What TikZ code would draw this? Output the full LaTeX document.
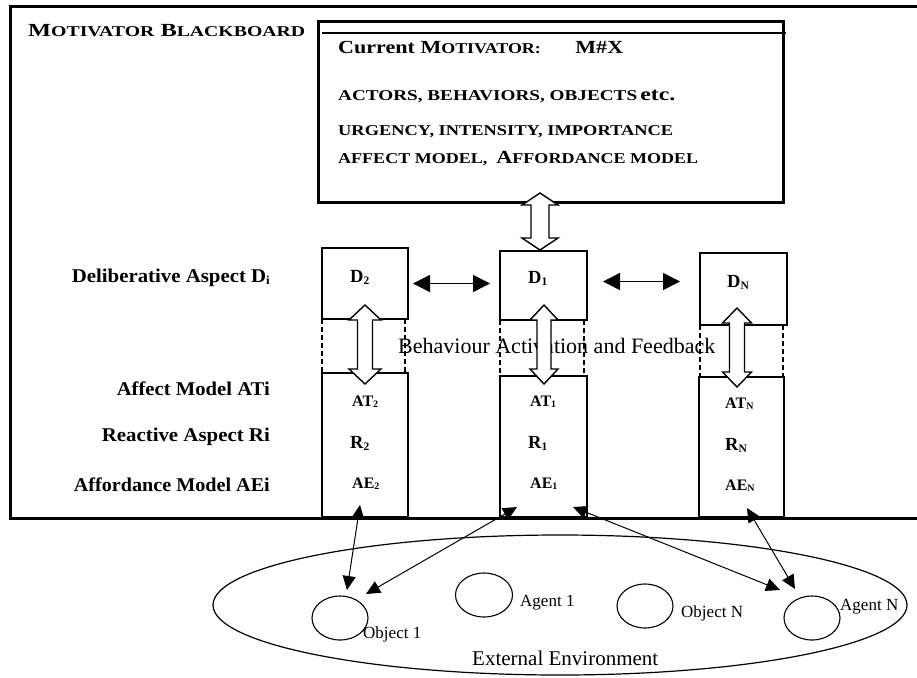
\documentclass[tikz,border=0pt]{standalone}
\usepackage{fontspec}
\setmainfont{Liberation Serif}
\usepackage{graphicx}
\usetikzlibrary{arrows.meta,shapes.geometric}

% type sizes
\newcommand\bigsc{\fontsize{18.5}{22}\selectfont}
\newcommand\smsc{\fontsize{15}{18}\selectfont}
\newcommand\labsz{\fontsize{19.5}{22}\selectfont}
% lowered small index
\newcommand\subs[1]{\raisebox{-0.25ex}{\scalebox{0.62}{#1}}}
% stretch a line of text to a given width, keeping its height
\newcommand\fitw[2]{\resizebox{#1pt}{\height}{#2}}
% hollow two-headed block arrow: centre x, top y, bottom y, head half-width, shaft half-width, head length
\newcommand\hollowarrow[6]{%
  \filldraw[hollow] (#1,#2) -- (#1+#4,#2+#6) -- (#1+#5,#2+#6) -- (#1+#5,#3-#6)
    -- (#1+#4,#3-#6) -- (#1,#3) -- (#1-#4,#3-#6) -- (#1-#5,#3-#6)
    -- (#1-#5,#2+#6) -- (#1-#4,#2+#6) -- cycle;}

\tikzset{
  frame/.style={line width=3pt},
  panel/.style={draw, line width=2.8pt, inner sep=0pt, outer sep=0pt, anchor=north west},
  sidedash/.style={line width=1.4pt, dash pattern=on 5pt off 3pt},
  hollow/.style={draw, fill=white, line width=1.4pt, line join=miter},
  peer/.style={line width=1.5pt, {Triangle[length=17pt,width=17pt]}-{Triangle[length=17pt,width=17pt]}},
  link/.style={line width=1pt, {Triangle[length=14pt,width=13pt]}-{Triangle[length=14pt,width=13pt]}},
  oval/.style={draw, ellipse, line width=1.1pt, inner sep=0pt, outer sep=0pt},
  txt/.style={inner sep=0pt, anchor=base west},
  rtxt/.style={inner sep=0pt, anchor=base east},
  cellD/.style={txt, font=\bfseries\fontsize{18.5}{22}\selectfont},
  cellA/.style={txt, font=\bfseries\fontsize{16}{20}\selectfont},
  envt/.style={txt, font=\fontsize{17}{20}\selectfont},
}

\begin{document}
\begin{tikzpicture}[x=1pt,y=-1pt]
\useasboundingbox (0,0) rectangle (917,677);

% blackboard frame (open to the right)
\coordinate (bbTR) at (917,7);
\coordinate (bbTL) at (10,7);
\coordinate (bbBL) at (10,518);
\coordinate (bbBR) at (917,518);
\draw[frame] (bbTR) -- (bbTL) -- (bbBL) -- (bbBR);

\node[txt] (title) at (28,37)
  {\fitw{277}{\bfseries\bigsc M{\smsc OTIVATOR} B{\smsc LACKBOARD}}};

% current motivator panel
\node[panel, line width=3pt, minimum width=465pt, minimum height=180pt] (mot) at (318,22) {};
\coordinate (rulL) at (322,33);
\coordinate (rulR) at (786,33);
\draw[line width=1.6pt] (rulL) -- (rulR);
\node[txt] (m0) at (338,53)
  {\fitw{285}{\bfseries\bigsc Current M{\smsc OTIVATOR:}\hspace{29pt}M\#X}};
\node[txt] (m1) at (338,100)
  {\fitw{337}{\bfseries{\smsc ACTORS, BEHAVIORS, OBJECTS} \bigsc etc.}};
\node[txt] (m2) at (338,135)
  {\fitw{335}{\bfseries\smsc URGENCY, INTENSITY, IMPORTANCE}};
\node[txt] (m3) at (338,163)
  {\fitw{360}{\bfseries\smsc AFFECT MODEL,\ \ {\bigsc A}FFORDANCE MODEL}};

% row labels
\node[rtxt] (rowD) at (270,282) {\fitw{198}{\bfseries\labsz Deliberative Aspect D\subs{i}}};
\node[rtxt] (rowAT) at (270,395) {\fitw{153}{\bfseries\labsz Affect Model ATi}};
\node[rtxt] (rowR) at (270,441) {\fitw{168}{\bfseries\labsz Reactive Aspect Ri}};
\node[rtxt] (rowAE) at (270,491) {\fitw{196}{\bfseries\labsz Affordance Model AEi}};

% agent columns: deliberative box and reactive box
\node[panel, minimum width=86pt, minimum height=71pt] (d2) at (322,248) {};
\node[panel, minimum width=86pt, minimum height=144pt] (l2) at (322,373) {};
\node[panel, minimum width=87pt, minimum height=69pt] (d1) at (500,251) {};
\node[panel, minimum width=87pt, minimum height=141pt] (l1) at (500,376) {};
\node[panel, minimum width=87pt, minimum height=72pt] (dN) at (700,253) {};
\node[panel, minimum width=85pt, minimum height=140pt] (lN) at (699,377) {};

% dashed sides between the two boxes of each column
\draw[sidedash] (d2.south west) -- (l2.north west);
\draw[sidedash] ([xshift=-3pt]d2.south east) -- ([xshift=-3pt]l2.north east);
\draw[sidedash] (d1.south west) -- (l1.north west);
\draw[sidedash] ([xshift=-3pt]d1.south east) -- ([xshift=-3pt]l1.north east);
\draw[sidedash] (dN.south west) -- ([xshift=1pt]lN.north west);
\draw[sidedash] ([xshift=-4pt]dN.south east) -- ([xshift=-1pt]lN.north east);

% column contents
\node[cellD] (tD2) at (350,282) {D\subs{2}};
\node[cellA] (tAT2) at (352,406) {AT\subs{2}};
\node[cellD] (tR2) at (350,448) {R\subs{2}};
\node[cellA] (tAE2) at (352,488) {AE\subs{2}};
\node[cellD] (tD1) at (528,283) {D\subs{1}};
\node[cellA] (tAT1) at (530,406) {AT\subs{1}};
\node[cellD] (tR1) at (528,448) {R\subs{1}};
\node[cellA] (tAE1) at (530,488) {AE\subs{1}};
\node[cellD] (tDN) at (727,287) {D\subs{N}};
\node[cellA] (tATN) at (725,408) {AT\subs{N}};
\node[cellD] (tRN) at (725,450) {R\subs{N}};
\node[cellA] (tAEN) at (725,490) {AE\subs{N}};

\node[txt, font=\fontsize{22}{24}\selectfont] (baf) at (398,353) {Behaviour Activation and Feedback};

% exchange between deliberative layers
\draw[peer] ([xshift=5pt]d2.east) -- ([xshift=-10pt]d1.west |- d2.east);
\draw[peer] ([xshift=16pt,yshift=4pt]d1.east) -- ([xshift=-20pt,yshift=4pt]dN.west |- d1.east);

% block arrows: motivator <-> D1, and deliberative <-> reactive in each column
\hollowarrow{540}{193}{250}{18}{9}{12}
\hollowarrow{365}{305}{384}{16}{7.5}{15}
\hollowarrow{544}{305}{384}{14}{7}{15}
\hollowarrow{737}{308}{387}{14.5}{7.5}{15}

% external environment
\node[oval, line width=1.2pt, minimum width=694pt, minimum height=140pt] (env) at (560,605) {};
\node[oval, minimum width=56pt, minimum height=44pt] (obj1) at (340,618) {};
\node[oval, minimum width=57pt, minimum height=44pt] (ag1) at (484,595) {};
\node[oval, minimum width=56pt, minimum height=44pt] (objN) at (645,606) {};
\node[oval, minimum width=56pt, minimum height=44pt] (agN) at (812,618) {};
\node[envt] (tobj1) at (363,638) {Object 1};
\node[envt] (tag1) at (520,606) {Agent 1};
\node[envt] (tobjN) at (681,617) {Object N};
\node[envt] (tagN) at (840,610) {Agent N};
\node[txt, font=\fontsize{21}{24}\selectfont] (tenv) at (472,665) {External Environment};

% perception / action links
\coordinate (p2) at (360,505);
\coordinate (q2) at (347,590);
\coordinate (p1a) at (517,507);
\coordinate (q1a) at (366,594);
\coordinate (p1b) at (573,507);
\coordinate (q1b) at (780,590);
\coordinate (pN) at (747,508);
\coordinate (qN) at (795,589);
\draw[link] (p2) -- (q2);
\draw[link] (p1a) -- (q1a);
\draw[link] (p1b) -- (q1b);
\draw[link] (pN) -- (qN);
\end{tikzpicture}
\end{document}
